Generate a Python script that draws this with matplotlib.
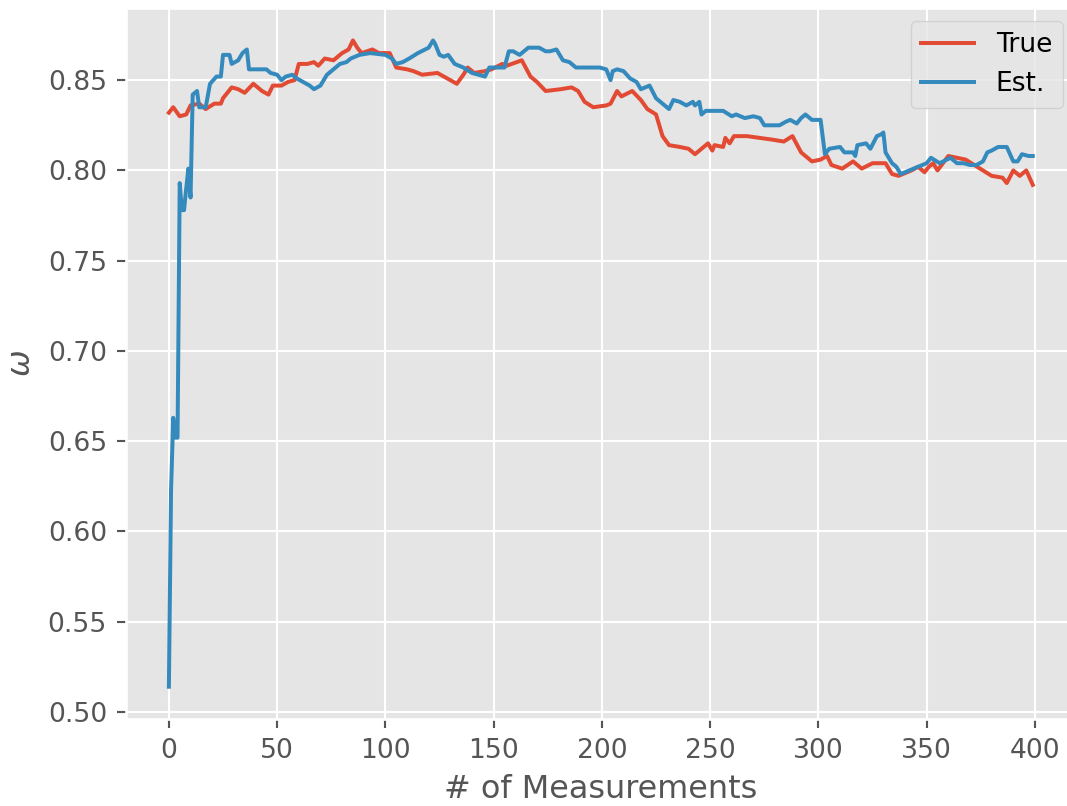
#Plot of the true and estimated omega against the number of measurements

import numpy as np
from matplotlib import pyplot as plt


t_true = np.array([0, 2, 5, 8, 10, 14, 17, 21, 24, 25, 29, 32, 35, 39, 43, 46, 48, 52, 55, 58,
                   60, 64, 67, 69, 72, 76, 80, 83, 85, 87, 89, 94, 97, 102, 105, 110, 113, 117, 124, 130,
                   133, 136, 138, 141, 146, 149, 154, 156, 163, 167, 170, 174, 181, 186, 189, 192, 196, 202, 204, 207,
                   209, 214, 218, 221, 225, 228, 231, 236, 240, 243, 247, 249, 251, 252, 256, 257, 259, 261, 267, 273,
                   279, 284, 288, 292, 297, 301, 304, 306, 311, 316, 320, 325, 331, 334, 337, 343, 346, 349, 351, 353,
                   355, 360, 364, 368, 372, 376, 380, 385, 387, 390, 393, 396, 399])
w_true = np.array([0.832, 0.835, 0.830, 0.831, 0.836, 0.837, 0.834, 0.837, 0.837, 0.840, 0.846, 0.845, 0.843, 0.848, 0.844, 0.842, 0.847, 0.847, 0.849, 0.850,
                   0.859, 0.859, 0.860, 0.858, 0.862, 0.861, 0.865, 0.867, 0.872, 0.868, 0.865, 0.867, 0.865, 0.865, 0.857, 0.856, 0.855, 0.853, 0.854, 0.850,
                   0.848, 0.853, 0.857, 0.854, 0.855, 0.856, 0.859, 0.858, 0.861, 0.852, 0.849, 0.844, 0.845, 0.846, 0.844, 0.838, 0.835, 0.836, 0.837, 0.844,
                   0.841, 0.844, 0.839, 0.834, 0.831, 0.819, 0.814, 0.813, 0.812, 0.809, 0.813, 0.815, 0.811, 0.814, 0.813, 0.818, 0.815, 0.819, 0.819, 0.818,
                   0.817, 0.816, 0.819, 0.810, 0.805, 0.806, 0.808, 0.803, 0.801, 0.805, 0.801, 0.804, 0.804, 0.798, 0.797, 0.800, 0.802, 0.799, 0.802, 0.804,
                   0.800, 0.808, 0.807, 0.806, 0.803, 0.800, 0.797, 0.796, 0.793, 0.800, 0.797, 0.800, 0.792])

#Estimated omega
t_est = np.array([0, 1, 2, 3, 4, 5, 6, 7, 8, 9, 10, 11, 13, 14, 17, 19, 22, 24, 25, 28,
                  29, 32, 34, 36, 37, 41, 45, 47, 50, 52, 54, 57, 59, 62, 65, 67, 70, 73, 76, 79,
                  82, 84, 88, 93, 100, 103, 105, 108, 111, 115, 120, 122, 123, 125, 127, 129, 132, 136, 140, 143,
                  146, 148, 155, 157, 159, 162, 166, 171, 174, 176, 179, 182, 185, 188, 193, 199, 202, 204, 205, 207,
                  210, 213, 216, 218, 222, 225, 228, 231, 233, 236, 239, 242, 243, 245, 246, 248, 256, 260, 262, 266,
                  270, 273, 275, 282, 285, 287, 290, 292, 294, 297, 301, 303, 305, 310, 312, 316, 317, 318, 322, 324,
                  327, 329, 330, 331, 334, 336, 338, 342, 346, 350, 352, 356, 361, 364, 367, 370, 373, 376, 378, 380,
                  383, 387, 390, 392, 394, 397, 399])
w_est = np.array([0.514, 0.623, 0.663, 0.652, 0.652, 0.793, 0.778, 0.778, 0.790, 0.801, 0.785, 0.842, 0.844, 0.835, 0.835, 0.848, 0.852, 0.852, 0.864, 0.864,
                  0.859, 0.861, 0.865, 0.867, 0.856, 0.856, 0.856, 0.854, 0.853, 0.850, 0.852, 0.853, 0.851, 0.849, 0.847, 0.845, 0.847, 0.853, 0.856, 0.859,
                  0.860, 0.862, 0.864, 0.865, 0.864, 0.862, 0.859, 0.860, 0.862, 0.865, 0.868, 0.872, 0.870, 0.864, 0.863, 0.864, 0.859, 0.857, 0.854, 0.853,
                  0.852, 0.857, 0.857, 0.866, 0.866, 0.864, 0.868, 0.868, 0.866, 0.866, 0.867, 0.861, 0.860, 0.857, 0.857, 0.857, 0.856, 0.850, 0.855, 0.856,
                  0.855, 0.851, 0.849, 0.845, 0.847, 0.840, 0.837, 0.834, 0.839, 0.838, 0.836, 0.838, 0.836, 0.838, 0.831, 0.833, 0.833, 0.830, 0.831, 0.829,
                  0.830, 0.829, 0.825, 0.825, 0.827, 0.828, 0.826, 0.829, 0.831, 0.828, 0.828, 0.809, 0.812, 0.813, 0.810, 0.810, 0.808, 0.814, 0.815, 0.812,
                  0.819, 0.820, 0.821, 0.810, 0.804, 0.802, 0.798, 0.800, 0.802, 0.804, 0.807, 0.804, 0.807, 0.804, 0.804, 0.803, 0.803, 0.805, 0.810, 0.811,
                  0.813, 0.813, 0.805, 0.805, 0.809, 0.808, 0.808])


plt.style.use('ggplot')

#Figure drawn at a high dpi so the fonts come out as big as in the original
dpi = 191
fig = plt.figure(figsize=(1067/dpi, 806/dpi), dpi=dpi)

#Axes runs a little past the right edge of the picture, as in the original
ax = fig.add_axes([0.1178, 0.1079, 0.8906, 0.882])

ax.plot(t_true, w_true, label='True')
ax.plot(t_est, w_est, label='Est.')

ax.set_xlim(-19.95, 418.95)
ax.set_xticks(np.arange(0, 401, 50))
ax.set_yticks(np.arange(0.50, 0.851, 0.05))

ax.set_xlabel('# of Measurements')
ax.set_ylabel(r'$\omega$')

ax.legend(loc='upper right')

fig.savefig('out.png', dpi=dpi)
